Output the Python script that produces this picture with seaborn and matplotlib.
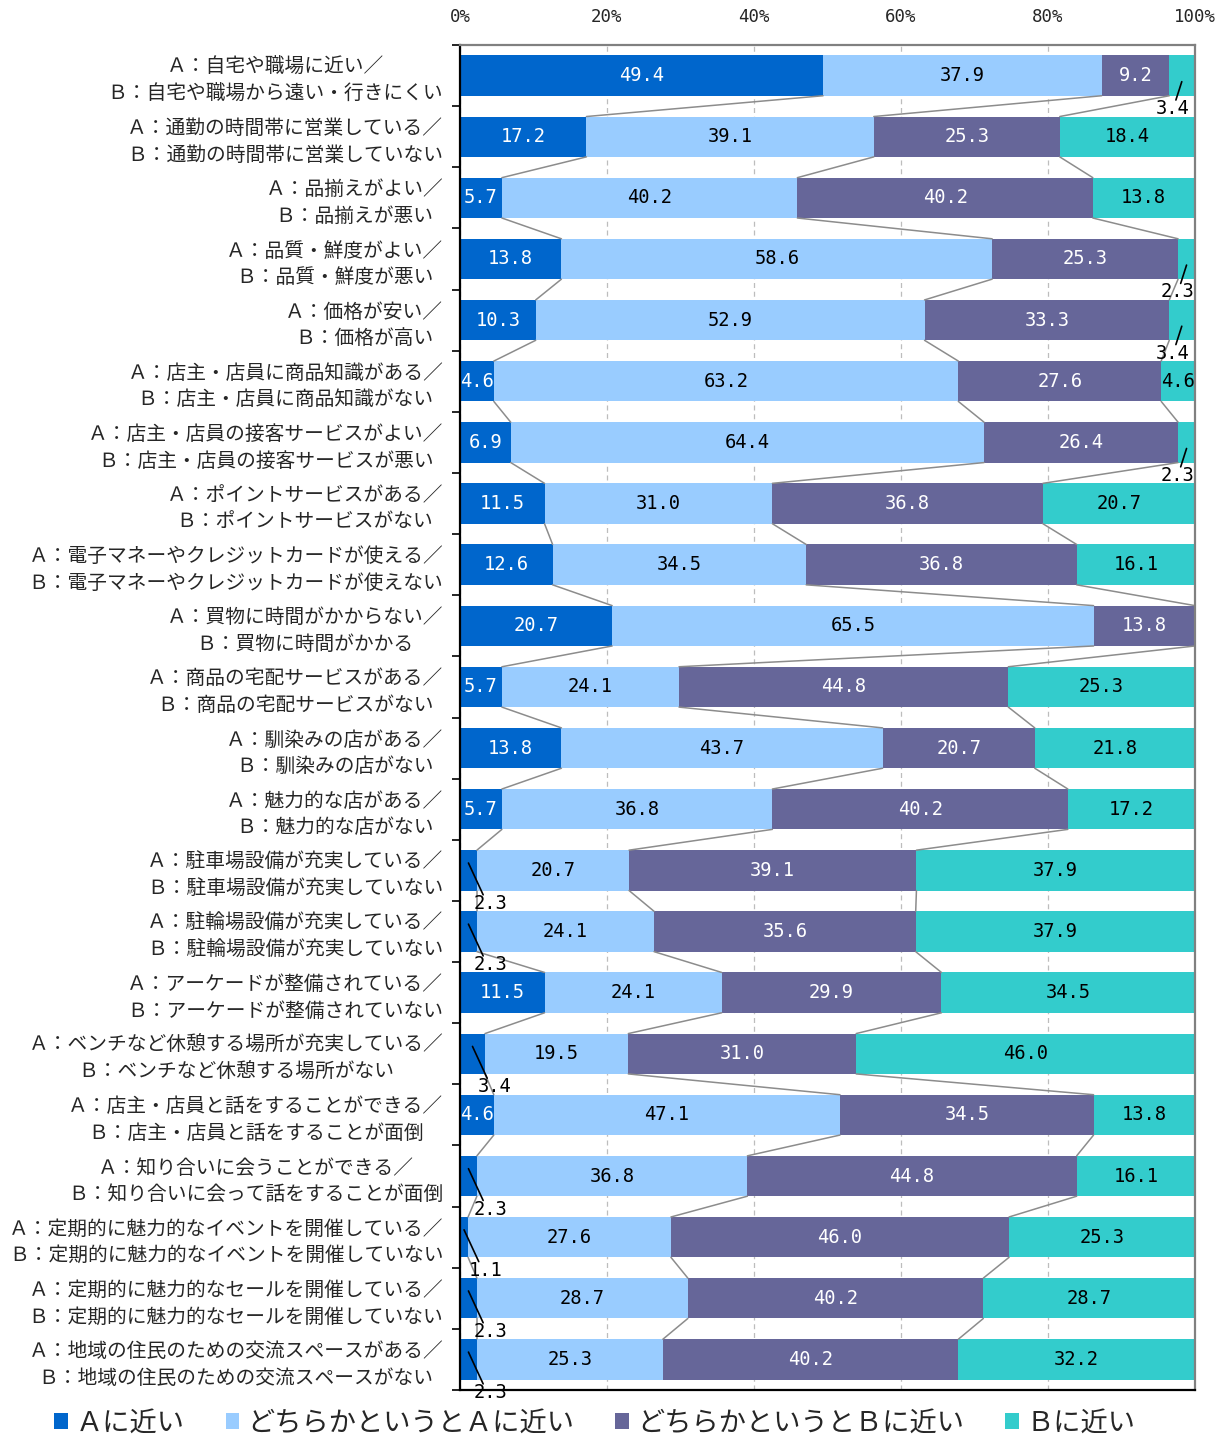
import numpy as np
import pandas as pd
import matplotlib
matplotlib.use("Agg")
import matplotlib.pyplot as plt
from matplotlib.patches import Patch
import seaborn as sns

# Survey items (A/B pairs) and response shares in percent
items = [
    "Ａ：自宅や職場に近い／\nＢ：自宅や職場から遠い・行きにくい",
    "Ａ：通勤の時間帯に営業している／\nＢ：通勤の時間帯に営業していない",
    "Ａ：品揃えがよい／\nＢ：品揃えが悪い",
    "Ａ：品質・鮮度がよい／\nＢ：品質・鮮度が悪い",
    "Ａ：価格が安い／\nＢ：価格が高い",
    "Ａ：店主・店員に商品知識がある／\nＢ：店主・店員に商品知識がない",
    "Ａ：店主・店員の接客サービスがよい／\nＢ：店主・店員の接客サービスが悪い",
    "Ａ：ポイントサービスがある／\nＢ：ポイントサービスがない",
    "Ａ：電子マネーやクレジットカードが使える／\nＢ：電子マネーやクレジットカードが使えない",
    "Ａ：買物に時間がかからない／\nＢ：買物に時間がかかる",
    "Ａ：商品の宅配サービスがある／\nＢ：商品の宅配サービスがない",
    "Ａ：馴染みの店がある／\nＢ：馴染みの店がない",
    "Ａ：魅力的な店がある／\nＢ：魅力的な店がない",
    "Ａ：駐車場設備が充実している／\nＢ：駐車場設備が充実していない",
    "Ａ：駐輪場設備が充実している／\nＢ：駐輪場設備が充実していない",
    "Ａ：アーケードが整備されている／\nＢ：アーケードが整備されていない",
    "Ａ：ベンチなど休憩する場所が充実している／\nＢ：ベンチなど休憩する場所がない",
    "Ａ：店主・店員と話をすることができる／\nＢ：店主・店員と話をすることが面倒",
    "Ａ：知り合いに会うことができる／\nＢ：知り合いに会って話をすることが面倒",
    "Ａ：定期的に魅力的なイベントを開催している／\nＢ：定期的に魅力的なイベントを開催していない",
    "Ａ：定期的に魅力的なセールを開催している／\nＢ：定期的に魅力的なセールを開催していない",
    "Ａ：地域の住民のための交流スペースがある／\nＢ：地域の住民のための交流スペースがない",
]

near_a = [49.4, 17.2, 5.7, 13.8, 10.3, 4.6, 6.9, 11.5, 12.6, 20.7, 5.7,
          13.8, 5.7, 2.3, 2.3, 11.5, 3.4, 4.6, 2.3, 1.1, 2.3, 2.3]
rather_a = [37.9, 39.1, 40.2, 58.6, 52.9, 63.2, 64.4, 31.0, 34.5, 65.5, 24.1,
            43.7, 36.8, 20.7, 24.1, 24.1, 19.5, 47.1, 36.8, 27.6, 28.7, 25.3]
rather_b = [9.2, 25.3, 40.2, 25.3, 33.3, 27.6, 26.4, 36.8, 36.8, 13.8, 44.8,
            20.7, 40.2, 39.1, 35.6, 29.9, 31.0, 34.5, 44.8, 46.0, 40.2, 40.2]
near_b = [3.4, 18.4, 13.8, 2.3, 3.4, 4.6, 2.3, 20.7, 16.1, 0.0, 25.3,
          21.8, 17.2, 37.9, 37.9, 34.5, 46.0, 13.8, 16.1, 25.3, 28.7, 32.2]

series_names = ["Ａに近い", "どちらかというとＡに近い", "どちらかというとＢに近い", "Ｂに近い"]
colors = ["#0066CC", "#99CCFF", "#666699", "#33CCCC"]
text_colors = ["white", "black", "white", "black"]

sns.set_theme(style="white")
plt.rcParams["font.family"] = ["Noto Sans CJK JP", "DejaVu Sans"]

values = np.array([near_a, rather_a, rather_b, near_b])  # shape (4, n)
n = len(items)
cum = np.cumsum(values, axis=0)
starts = cum - values

df = pd.DataFrame({"item": items})
for k in range(4):
    df[f"cum{k}"] = cum[k]

fig = plt.figure(figsize=(12.19, 14.36), dpi=100)
ax = fig.add_axes([460 / 1219, 1 - 1390 / 1436, 735 / 1219, 1345 / 1436])

bar_h = 0.66
# Stacked bars: draw cumulative totals from the outermost layer inward
for k in range(3, -1, -1):
    sns.barplot(data=df, x=f"cum{k}", y="item", orient="h", color=colors[k],
                saturation=1, width=bar_h, errorbar=None, linewidth=0, ax=ax)

# Series lines linking segment boundaries between neighbouring bars
for k in range(3):
    for i in range(n - 1):
        ax.plot([cum[k, i], cum[k, i + 1]], [i + bar_h / 2, i + 1 - bar_h / 2],
                color="#8c8c8c", lw=1.1, zorder=1)

# Value labels
num_font = dict(family="DejaVu Sans Mono", fontsize=13.5)
for k in range(4):
    for i in range(n):
        v = values[k, i]
        if v <= 0:
            continue
        cx = starts[k, i] + v / 2
        txt = f"{v:.1f}"
        if v >= 4:
            ax.text(cx, i, txt, ha="center", va="center",
                    color=text_colors[k], zorder=5, **num_font)
        else:
            if k == 0:
                lx, ly0, ly1, tx = cx + 2.0, i - 0.12, i + 0.4, cx + 3.0
            else:
                lx, ly0, ly1, tx = cx - 0.8, i + 0.1, i + 0.4, cx - 1.2
            ax.plot([cx, lx], [ly0, ly1], color="black", lw=1.2, zorder=6)
            ax.text(tx, i + 0.54, txt, ha="center", va="center",
                    color="black", zorder=6, **num_font)

ax.set_xlim(0, 100)
ax.set_ylim(n - 0.5, -0.5)
ax.set_xlabel("")
ax.set_ylabel("")

# Percentage scale along the top
ax.xaxis.tick_top()
ax.set_xticks([0, 20, 40, 60, 80, 100])
ax.set_xticklabels(["0%", "20%", "40%", "60%", "80%", "100%"],
                   family="DejaVu Sans Mono", fontsize=12.5)
ax.tick_params(axis="x", length=0, pad=14)
ax.grid(axis="x", color="#bdbdbd", linestyle=(0, (4, 3)), lw=0.9)
ax.set_axisbelow(True)

ax.set_yticks(range(n))
ax.set_yticklabels(items, fontsize=14.2, multialignment="center", linespacing=1.35)
ax.tick_params(axis="y", length=0, pad=12)
ax.set_yticks(np.arange(-0.5, n, 1.0), minor=True)
ax.tick_params(axis="y", which="minor", length=6, width=1.2, color="black",
               direction="out", left=True)

for side in ["left", "bottom"]:
    ax.spines[side].set_color("black")
    ax.spines[side].set_linewidth(1.6)
for side in ["top", "right"]:
    ax.spines[side].set_color("#808080")
    ax.spines[side].set_linewidth(1.6)

handles = [Patch(facecolor=c, edgecolor="none", label=s)
           for c, s in zip(colors, series_names)]
fig.legend(handles=handles, loc="center", bbox_to_anchor=(0.488, 1 - 1423 / 1436),
           ncol=4, frameon=False, fontsize=19.6, handlelength=0.5, handleheight=0.5,
           handletextpad=0.3, columnspacing=1.5)

fig.savefig("out.png", dpi=100)
